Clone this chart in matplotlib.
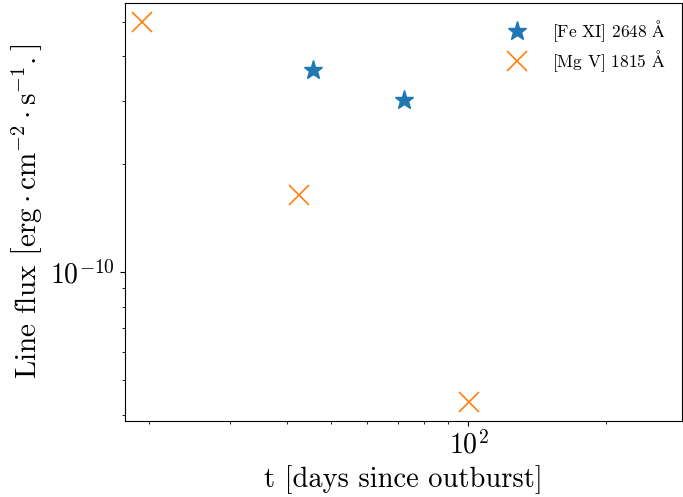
import numpy as np
import matplotlib
matplotlib.use("Agg")
import matplotlib.pyplot as plt
from matplotlib.ticker import NullFormatter

plt.rcParams['font.family'] = 'serif'
plt.rcParams['font.serif'] = ['cmr10']
plt.rcParams['mathtext.fontset'] = 'cm'
plt.rcParams['axes.formatter.use_mathtext'] = True

# [Fe XI] 2648 A line fluxes
t_fe = np.array([45.6, 72.1])
flux_fe = np.array([3.66e-10, 3.02e-10])

# [Mg V] 1815 A line fluxes
t_mg = np.array([19.3, 42.5, 100.5])
flux_mg = np.array([5.0e-10, 1.64e-10, 4.33e-11])


def main():
    fig, ax = plt.subplots(figsize=(6.83, 4.97), dpi=100)
    fig.subplots_adjust(left=0.183, right=0.998, bottom=0.153, top=0.994)

    ax.plot(t_fe, flux_fe, "*", color="tab:blue", markersize=14,
            label=r"[Fe XI] 2648 $\mathrm{\AA}$")
    ax.plot(t_mg, flux_mg, "x", color="tab:orange", markersize=14,
            markeredgewidth=1.2, label=r"[Mg V] 1815 $\mathrm{\AA}$")

    ax.set_xscale("log")
    ax.set_yscale("log")
    ax.set_xlim(17.7, 293)
    ax.set_ylim(3.84e-11, 5.64e-10)
    ax.xaxis.set_minor_formatter(NullFormatter())
    ax.yaxis.set_minor_formatter(NullFormatter())
    ax.tick_params(labelsize=20)

    ax.set_xlabel("t [days since outburst]", fontsize=20.5)
    ax.set_ylabel(r"Line flux $\left[\mathrm{erg}\cdot\mathrm{cm}^{-2}\cdot\mathrm{s}^{-1}.\right]$",
                  fontsize=21)
    ax.legend(frameon=False, loc="upper right", fontsize=12.5,
              labelspacing=0.2, handletextpad=1.0)

    fig.savefig("out.png", dpi=100)


main()
